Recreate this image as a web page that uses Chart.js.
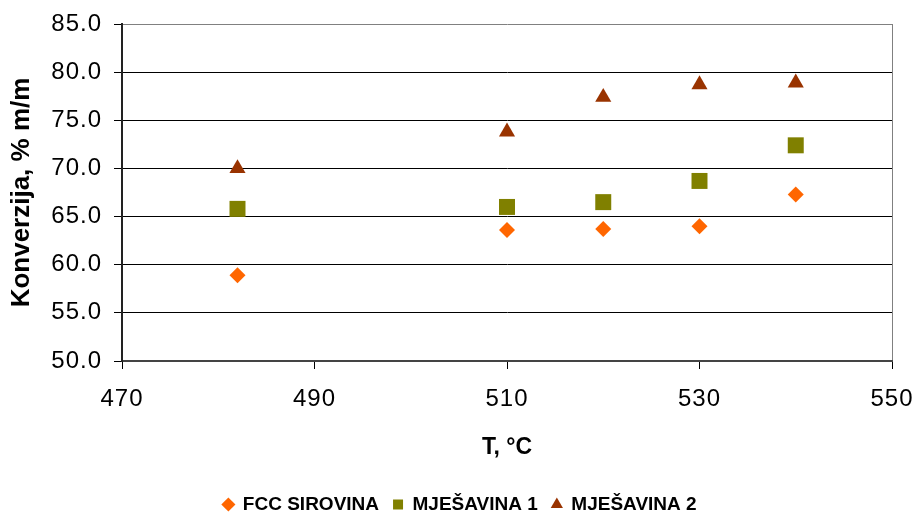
<!DOCTYPE html>
<html>
<head>
<meta charset="utf-8">
<script src="https://cdn.jsdelivr.net/npm/chart.js@4/dist/chart.umd.min.js"></script>
<style>
  html, body { margin: 0; padding: 0; background: #ffffff; }
  #wrap { width: 918px; height: 517px; position: relative; }
</style>
</head>
<body>
<div id="wrap"><canvas id="c" width="918" height="517"></canvas></div>
<script>
const temperatures = [482, 510, 520, 530, 540];
const fccSirovina = [58.9, 63.6, 63.7, 64.0, 67.3];
const mjesavina1 = [65.8, 66.0, 66.5, 68.7, 72.4];
const mjesavina2 = [70.0, 73.8, 77.4, 78.7, 78.9];
const seriesNames = ['FCC SIROVINA', 'MJEŠAVINA 1', 'MJEŠAVINA 2'];
const xTitle = 'T, °C';
const yTitle = 'Konverzija, % m/m';

const toPoints = (vals) => temperatures.map((t, i) => ({ x: t, y: vals[i] }));

// slightly wider tick labels (reference tick text is horizontally stretched)
const origDrawLabels = Chart.LinearScale.prototype.drawLabels;
Chart.LinearScale.prototype.drawLabels = function (area) {
  this.ctx.save();
  this.ctx.letterSpacing = '1px';
  origDrawLabels.call(this, area);
  this.ctx.restore();
};

const FONT = "'Liberation Sans', Arial, sans-serif";

new Chart(document.getElementById('c'), {
  type: 'scatter',
  data: {
    datasets: [
      { label: seriesNames[0], data: toPoints(fccSirovina), pointStyle: 'rectRot', pointRadius: 8, pointHoverRadius: 8,
        backgroundColor: '#FF6600', borderColor: '#FF6600', borderWidth: 0 },
      { label: seriesNames[1], data: toPoints(mjesavina1), pointStyle: 'rect', pointRadius: 11.3, pointHoverRadius: 11.3,
        backgroundColor: '#808000', borderColor: '#808000', borderWidth: 0 },
      { label: seriesNames[2], data: toPoints(mjesavina2), pointStyle: 'triangle', pointRadius: 9.3, pointHoverRadius: 9.3,
        backgroundColor: '#993300', borderColor: '#993300', borderWidth: 0 }
    ]
  },
  options: {
    responsive: false,
    animation: false,
    devicePixelRatio: 1,
    layout: { padding: { top: 24, right: 26, left: 28, bottom: -7 } },
    plugins: {
      tooltip: { enabled: false },
      legend: {
        position: 'bottom',
        labels: {
          usePointStyle: true,
          boxWidth: 10,
          boxHeight: 10,
          padding: 14,
          color: '#000',
          font: { family: FONT, size: 19, weight: 'bold' }
        }
      }
    },
    scales: {
      x: {
        type: 'linear',
        min: 470, max: 550,
        ticks: { stepSize: 20, color: '#000', padding: 16, font: { family: FONT, size: 24 } },
        grid: {
          drawOnChartArea: true,
          color: (ctx) => (ctx.tick && ctx.tick.value === 550 ? '#808080' : 'rgba(0,0,0,0)'),
          tickColor: '#000',
          tickLength: 8,
          lineWidth: 1
        },
        border: { display: true, color: '#444', width: 2 },
        title: { display: true, text: xTitle, color: '#000', padding: { top: 0, bottom: 20 },
                 font: { family: FONT, size: 23, weight: 'bold' } },
        afterFit: (s) => { s.height = 120; s.paddingRight = 0; s.paddingLeft = 0; }
      },
      y: {
        type: 'linear',
        min: 50, max: 85,
        ticks: { stepSize: 5, color: '#000', padding: 12, font: { family: FONT, size: 24 },
                 callback: (v) => Number(v).toFixed(1) },
        grid: {
          color: (ctx) => (ctx.tick && ctx.tick.value === 85 ? '#808080' : '#000'),
          tickColor: '#000',
          tickLength: 8,
          lineWidth: 1
        },
        border: { display: true, color: '#222', width: 2 },
        title: { display: true, text: yTitle, color: '#000', padding: { top: -22, bottom: 0 },
                 font: { family: FONT, size: 26, weight: 'bold' } },
        afterFit: (s) => { s.width = 94; s.paddingTop = 0; s.paddingBottom = 0; }
      }
    }
  }
});
</script>
</body>
</html>
